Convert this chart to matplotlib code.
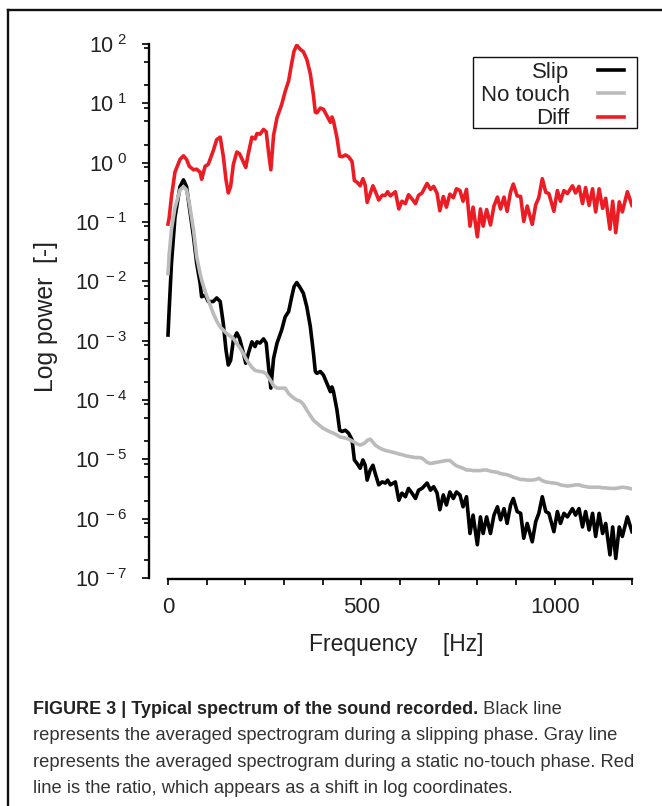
import numpy as np
import matplotlib
matplotlib.use("Agg")
import matplotlib.pyplot as plt
from matplotlib.ticker import FixedLocator, LogLocator, FuncFormatter, NullFormatter
from matplotlib import font_manager
from matplotlib.lines import Line2D
from matplotlib.patches import Rectangle

# ---------------- data ----------------
freq_hz = [0, 3, 9, 18, 31, 40, 48, 55, 66, 74,
           83, 87, 96, 104, 117, 126, 135, 143, 150, 156,
           162, 169, 178, 185, 195, 201, 208, 217, 225, 230,
           238, 247, 254, 260, 266, 273, 282, 294, 303, 312,
           320, 326, 333, 342, 350, 359, 368, 376, 381, 385,
           394, 402, 411, 420, 424, 428, 437, 444, 450, 459,
           467, 476, 482, 489, 497, 504, 510, 515, 523, 530,
           536, 545, 554, 562, 568, 575, 588, 597, 605, 614,
           622, 631, 640, 648, 657, 670, 679, 687, 696, 703,
           712, 720, 729, 738, 746, 755, 763, 772, 781, 789,
           800, 808, 815, 824, 834, 843, 852, 860, 869, 877,
           886, 893, 903, 912, 920, 929, 942, 951, 959, 968,
           977, 985, 998, 1007, 1015, 1024, 1033, 1046, 1054, 1063,
           1072, 1080, 1089, 1098, 1106, 1115, 1124, 1132, 1143, 1150,
           1158, 1167, 1175, 1188, 1200]

# log10 of power, slipping phase (black)
slip_log10 = [-2.905, -2.48, -1.69, -0.92, -0.405, -0.29, -0.405, -0.74, -1.25, -1.69,
              -2.03, -2.26, -2.23, -2.34, -2.34, -2.28, -2.34, -2.71, -3.16, -3.41,
              -3.33, -2.99, -2.87, -2.96, -3.21, -3.38, -3.21, -3.02, -3.10, -3.02,
              -3.04, -2.97, -3.04, -3.44, -3.80, -3.30, -3.04, -2.82, -2.60, -2.51,
              -2.26, -2.09, -2.02, -2.11, -2.20, -2.43, -2.76, -3.20, -3.52, -3.55,
              -3.52, -3.58, -3.72, -3.86, -3.78, -3.86, -4.17, -4.51, -4.53, -4.51,
              -4.56, -4.67, -5.01, -5.07, -5.15, -5.01, -5.10, -5.35, -5.18, -5.10,
              -5.24, -5.43, -5.38, -5.40, -5.35, -5.43, -5.38, -5.69, -5.57, -5.63,
              -5.49, -5.57, -5.66, -5.52, -5.49, -5.40, -5.52, -5.46, -5.57, -5.85,
              -5.60, -5.77, -5.55, -5.66, -5.55, -5.60, -5.80, -5.63, -6.25, -5.94,
              -6.44, -5.97, -6.25, -5.97, -6.25, -5.94, -5.80, -6.02, -5.83, -6.08,
              -5.77, -5.66, -5.88, -5.91, -6.33, -6.08, -6.39, -6.05, -5.91, -5.63,
              -5.88, -5.91, -6.22, -5.88, -6.08, -5.91, -5.97, -5.83, -5.94, -5.83,
              -6.14, -5.88, -6.19, -5.91, -6.30, -5.91, -6.25, -6.08, -6.61, -6.14,
              -6.67, -6.14, -6.30, -5.97, -6.22]

# log10 of power, static no-touch phase (gray)
no_touch_log10 = [-1.87, -1.55, -1.12, -0.76, -0.46, -0.405, -0.46, -0.68, -1.13, -1.58,
                  -1.87, -1.98, -2.17, -2.31, -2.54, -2.67, -2.77, -2.82, -2.87, -2.90,
                  -2.93, -2.96, -3.05, -3.11, -3.22, -3.30, -3.37, -3.45, -3.50, -3.51,
                  -3.52, -3.53, -3.56, -3.62, -3.68, -3.76, -3.80, -3.80, -3.80, -3.89,
                  -3.94, -3.97, -4.00, -4.02, -4.07, -4.17, -4.26, -4.34, -4.37, -4.39,
                  -4.44, -4.48, -4.51, -4.54, -4.55, -4.56, -4.59, -4.62, -4.63, -4.64,
                  -4.66, -4.69, -4.71, -4.74, -4.76, -4.74, -4.72, -4.68, -4.66, -4.71,
                  -4.76, -4.80, -4.83, -4.85, -4.86, -4.87, -4.89, -4.91, -4.92, -4.94,
                  -4.95, -4.96, -4.97, -4.97, -4.98, -5.05, -5.07, -5.06, -5.05, -5.04,
                  -5.03, -5.02, -5.02, -5.07, -5.11, -5.13, -5.15, -5.18, -5.18, -5.19,
                  -5.19, -5.19, -5.18, -5.18, -5.20, -5.21, -5.22, -5.24, -5.25, -5.26,
                  -5.28, -5.30, -5.32, -5.34, -5.34, -5.35, -5.35, -5.34, -5.32, -5.36,
                  -5.38, -5.39, -5.40, -5.41, -5.43, -5.44, -5.45, -5.44, -5.43, -5.43,
                  -5.45, -5.46, -5.47, -5.47, -5.47, -5.47, -5.48, -5.48, -5.49, -5.49,
                  -5.49, -5.48, -5.47, -5.48, -5.50]

series_labels = ["Slip", "No touch", "Diff"]
x_tick_values = [0, 500, 1000]
x_minor_step_hz = 100

caption_bold = "FIGURE 3 | Typical spectrum of the sound recorded."
caption_lines = [" Black line",
                 "represents the averaged spectrogram during a slipping phase. Gray line",
                 "represents the averaged spectrogram during a static no-touch phase. Red",
                 "line is the ratio, which appears as a shift in log coordinates."]

# ---------------- styling ----------------
available = {f.name for f in font_manager.fontManager.ttflist}
main_font = "Liberation Sans" if "Liberation Sans" in available else "DejaVu Sans"
cap_font = main_font

plt.rcParams["font.family"] = [main_font, "DejaVu Sans"]
plt.rcParams["mathtext.fontset"] = "custom"
plt.rcParams["mathtext.rm"] = main_font
plt.rcParams["mathtext.it"] = main_font
plt.rcParams["mathtext.bf"] = main_font + ":bold"

BLACK = "#000000"
GRAY = "#BBBBBB"
RED = "#EC1C24"
TXT = "#222222"

W, H = 662, 806
fig = plt.figure(figsize=(W / 100, H / 100), dpi=100)

def fx(px):
    return px / W

def fy(py):
    return 1 - py / H

# outer frame (top and left edges visible)
fig.add_artist(Line2D([fx(7.5), fx(W + 5)], [fy(9.5), fy(9.5)], color="#111111", lw=1.7,
                      transform=fig.transFigure))
fig.add_artist(Line2D([fx(7.5), fx(7.5)], [fy(9.5), fy(H + 5)], color="#111111", lw=1.7,
                      transform=fig.transFigure))

ax_left, ax_right, ax_top, ax_bottom = 149, 632, 44, 578
ax = fig.add_axes([fx(ax_left), fy(ax_bottom), fx(ax_right - ax_left), (ax_bottom - ax_top) / H])

f = np.array(freq_hz, dtype=float)
slip = 10.0 ** np.array(slip_log10)
no_touch = 10.0 ** np.array(no_touch_log10)
diff = slip / no_touch  # red line: ratio slip / no touch (see caption)

LW = 2.6
h1, = ax.plot(f, slip, color=BLACK, lw=LW, label=series_labels[0], solid_joinstyle="round")
h2, = ax.plot(f, no_touch, color=GRAY, lw=LW, label=series_labels[1], solid_joinstyle="round")
h3, = ax.plot(f, diff, color=RED, lw=LW, label=series_labels[2], solid_joinstyle="round")

ax.set_yscale("log")
ax.set_ylim(1e-7, 1e2)
x_per_px = 1200 / (632 - 168)
ax.set_xlim(-(168 - ax_left) * x_per_px, 1200)

for s in ("top", "right"):
    ax.spines[s].set_visible(False)
ax.spines["bottom"].set_bounds(0, 1200)
ax.spines["left"].set_linewidth(1.7)
ax.spines["bottom"].set_linewidth(1.7)
ax.spines["bottom"].set_position(("outward", 1))

ax.yaxis.set_major_locator(LogLocator(base=10, numticks=20))
ax.yaxis.set_minor_locator(LogLocator(base=10, subs=(2.0, 5.0, 8.5), numticks=20))
ax.yaxis.set_minor_formatter(NullFormatter())

def yfmt(v, pos):
    e = int(round(np.log10(v)))
    return r"$\mathregular{10^{\ %d}}$" % e

ax.yaxis.set_major_formatter(FuncFormatter(yfmt))
ax.set_xticks(x_tick_values)
ax.xaxis.set_minor_locator(FixedLocator(np.arange(0, 1201, x_minor_step_hz)))

ax.tick_params(axis="y", which="major", direction="out", length=5, width=1.3,
               labelsize=15.5, pad=11)
ax.tick_params(axis="y", which="minor", direction="out", length=3.5, width=1.3)
ax.tick_params(axis="x", which="both", direction="out", length=4, width=1.3,
               labelsize=16, pad=9)
ax.tick_params(axis="both", which="both", colors="#111111", labelcolor=TXT)

ax.set_xlabel("Frequency    [Hz]", fontsize=16.5, color=TXT)
ax.set_ylabel("Log power  [-]", fontsize=17.8, color=TXT)
ax.xaxis.set_label_coords((396 - ax_left) / (ax_right - ax_left), -(645 - ax_bottom) / (ax_bottom - ax_top))
ax.yaxis.set_label_coords(-(149 - 46) / (ax_right - ax_left), (ax_bottom - 316) / (ax_bottom - ax_top))
ax.xaxis.label.set_va("center")
ax.yaxis.label.set_va("center")

# legend: frame drawn as figure rectangle, entries right-aligned with handles on the right
fig.add_artist(Rectangle((fx(473), fy(128)), fx(637 - 473), (128 - 57) / H, transform=fig.transFigure,
                         facecolor="white", edgecolor="#111111", lw=1.0, zorder=5))
leg = fig.legend(handles=[h1, h2, h3], labels=series_labels,
                 loc="upper right", bbox_to_anchor=(fx(624), fy(62)), bbox_transform=fig.transFigure,
                 markerfirst=False, fontsize=16, frameon=False,
                 handlelength=1.15, handletextpad=1.3,
                 labelspacing=0.1, borderpad=0.0, borderaxespad=0)
leg.set_zorder(6)
for t in leg.get_texts():
    t.set_ha("right")
    t.set_color(TXT)
leg._legend_box.align = "right"

# caption
cap_size = 13.2
cap_x = fx(33)
base_y = [714, 740, 767, 793]
t0 = fig.text(cap_x, fy(base_y[0]), caption_bold, fontsize=13, fontweight="bold",
              family=[cap_font, "DejaVu Sans"], color=TXT, va="baseline", ha="left")
fig.canvas.draw()
bb = t0.get_window_extent(renderer=fig.canvas.get_renderer())
fig.text(bb.x1 / fig.bbox.width, fy(base_y[0]), caption_lines[0], fontsize=cap_size,
         family=[cap_font, "DejaVu Sans"], color="#333333", va="baseline", ha="left")
for line, by in zip(caption_lines[1:], base_y[1:]):
    fig.text(cap_x, fy(by), line, fontsize=cap_size, family=[cap_font, "DejaVu Sans"],
             color="#333333", va="baseline", ha="left")

fig.savefig("out.png", dpi=100)
